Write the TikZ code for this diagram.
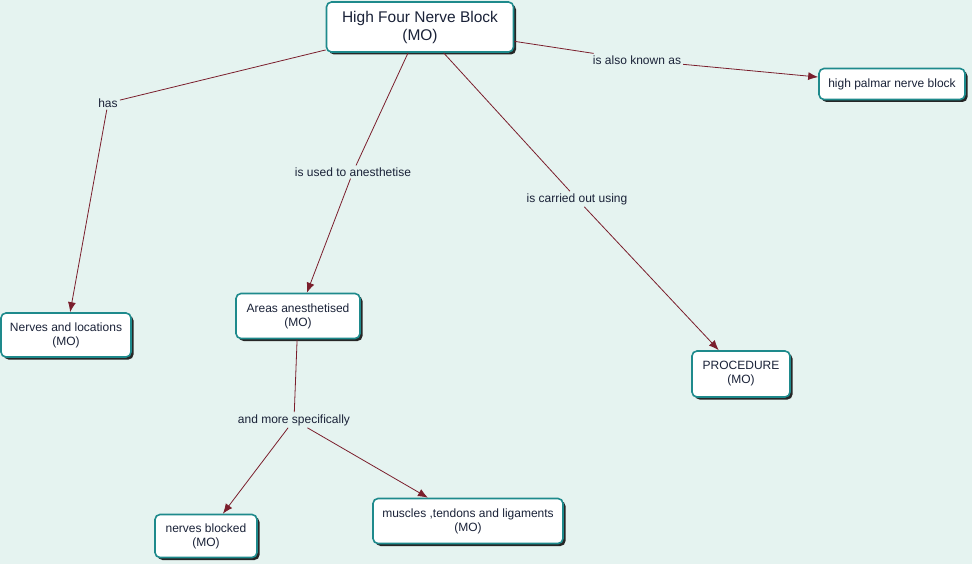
\documentclass[tikz,border=0pt]{standalone}
\usepackage{fontspec}
\setmainfont{Liberation Sans}
\usetikzlibrary{arrows.meta,shadows}
\definecolor{bgmint}{HTML}{E5F3F0}
\definecolor{boxteal}{HTML}{1E8A8C}
\definecolor{linkred}{HTML}{7A1E2C}
\definecolor{txtnavy}{HTML}{1A2238}
\tikzset{
concept/.style={draw=boxteal,line width=1.6pt,fill=white,rounded corners=5pt,align=center,
  text=txtnavy,font=\fontsize{12}{14}\selectfont,inner xsep=6pt,inner ysep=4pt,
  drop shadow={shadow xshift=2.5pt,shadow yshift=-2.5pt,fill=black!85,opacity=1}},
linkword/.style={text=txtnavy,font=\fontsize{12}{14}\selectfont,inner sep=2pt},
link/.style={draw=linkred,line width=0.8pt},
arrowlink/.style={link,-{Latex[length=10pt,width=8pt]}}
}
\begin{document}
\begin{tikzpicture}[x=1pt,y=-1pt]
\fill[bgmint] (0,0) rectangle (972,564);
\useasboundingbox (0,0) rectangle (972,564);
% concepts
\node[concept,minimum width=187pt,minimum height=50pt,font=\fontsize{15.5}{18}\selectfont] (hfnb) at (420,27) {High Four Nerve Block\\(MO)};
\node[concept,minimum width=146pt,minimum height=31pt] (hpnb) at (892,84) {high palmar nerve block};
\node[concept,minimum width=130pt,minimum height=44pt] (nerves) at (66,335) {Nerves and locations\\(MO)};
\node[concept,minimum width=124pt,minimum height=45pt] (areas) at (298,316) {Areas anesthetised\\(MO)};
\node[concept,minimum width=98pt,minimum height=46pt] (proc) at (741,374) {PROCEDURE\\(MO)};
\node[concept,minimum width=102pt,minimum height=43pt] (blocked) at (206,536) {nerves blocked\\(MO)};
\node[concept,minimum width=190pt,minimum height=45pt] (muscles) at (468,521) {muscles ,tendons and ligaments\\(MO)};
% linking words
\node[linkword] (has) at (108,103) {has};
\node[linkword] (used) at (353,172) {is used to anesthetise};
\node[linkword] (carried) at (577,199) {is carried out using};
\node[linkword] (known) at (637,60) {is also known as};
\node[linkword] (more) at (294,420) {and more specifically};
% connectors
\draw[link] (hfnb) -- (has);
\draw[arrowlink] (has) -- (nerves);
\draw[link] (hfnb) -- (used);
\draw[arrowlink] (used) -- (areas);
\draw[link] (hfnb) -- (carried);
\draw[arrowlink] (carried) -- (proc);
\draw[link] (hfnb) -- (known);
\draw[arrowlink] (known) -- (hpnb);
\draw[link] (areas) -- (more);
\draw[arrowlink] (more) -- (blocked);
\draw[arrowlink] (more) -- (muscles);
\end{tikzpicture}
\end{document}
